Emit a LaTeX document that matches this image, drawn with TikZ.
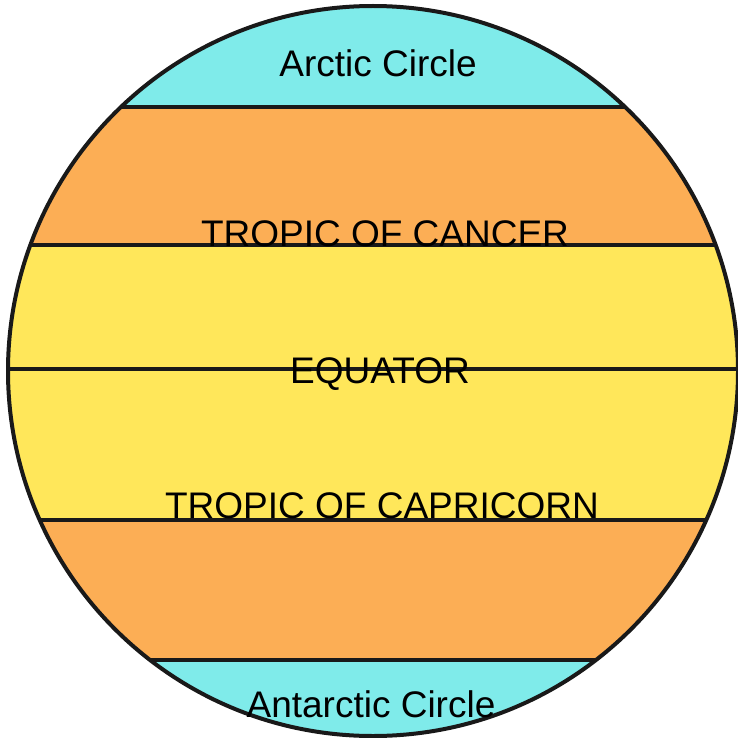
\documentclass[tikz,border=0pt]{standalone}
\usepackage{fontspec}
\setmainfont{Liberation Sans}
\definecolor{polarcyan}{HTML}{7FEBEA}
\definecolor{temporange}{HTML}{FCAE55}
\definecolor{tropicyellow}{HTML}{FFE75A}
\tikzset{
  zonelabel/.style={font=\fontsize{37}{40}\selectfont, anchor=base, inner sep=0pt},
  zoneline/.style={line width=4.5pt, black!90}
}
\begin{document}
\begin{tikzpicture}[x=1pt, y=-1pt]
    \useasboundingbox (0,0) rectangle (737,738);
    \begin{scope}
        \clip (373,371) circle (365);
        \fill[polarcyan] (0,0) rectangle (740,107);
        \fill[temporange] (0,107) rectangle (740,245);
        \fill[tropicyellow] (0,245) rectangle (740,520);
        \fill[temporange] (0,520) rectangle (740,660);
        \fill[polarcyan] (0,660) rectangle (740,740);
        \foreach \yy in {107,245,369,520,660} {\draw[zoneline] (0,\yy) -- (740,\yy);}
    \end{scope}
    \draw[line width=4pt, black!90] (373,371) circle (365);
    \node[zonelabel] (arctic) at (378,77) {Arctic Circle};
    \node[zonelabel] (cancer) at (385,246) {TROPIC OF CANCER};
    \node[zonelabel] (equator) at (380,383) {EQUATOR};
    \node[zonelabel] (capricorn) at (382,518) {TROPIC OF CAPRICORN};
    \node[zonelabel] (antarctic) at (371,717) {Antarctic Circle};
\end{tikzpicture}
\end{document}
